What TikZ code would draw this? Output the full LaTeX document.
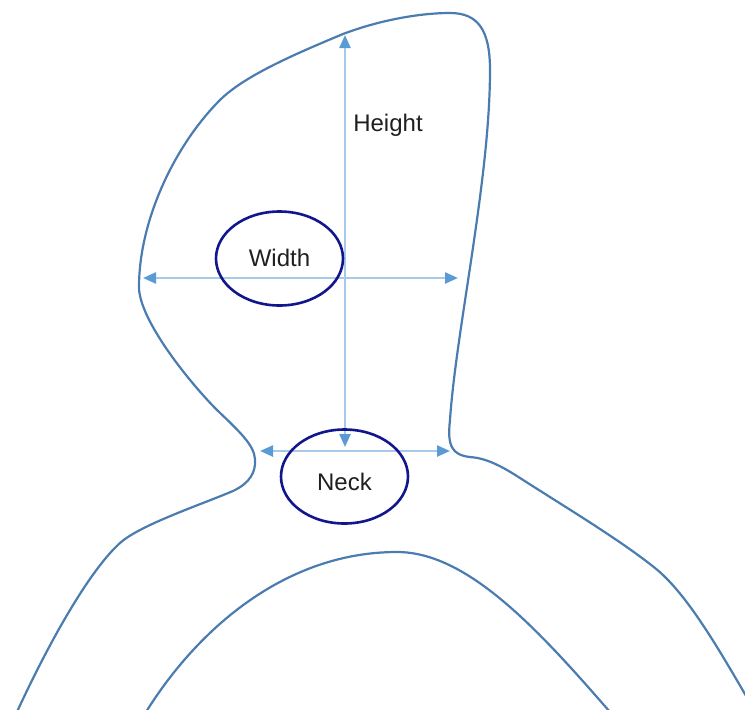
\documentclass[tikz,border=0pt]{standalone}
\usepackage{fontspec}
\setmainfont{Liberation Sans}
\usetikzlibrary{arrows.meta,shapes.geometric}

\definecolor{bleuContour}{HTML}{4A7CB0}
\definecolor{bleuTrait}{HTML}{A9C9EA}
\definecolor{bleuPointe}{HTML}{5B9BD5}
\definecolor{bleuNuit}{HTML}{12168C}

\tikzset{
    silhouette/.style={draw=bleuContour, line width=2.2pt, line join=round},
    cote/.style={draw=bleuTrait, line width=2.4pt,
        >={Triangle[length=13pt, width=11pt, color=bleuPointe]}, <->},
    bulle/.style={ellipse, draw=bleuNuit, line width=2.6pt, inner sep=0pt,
        minimum width=127pt, minimum height=94pt, text=black!88,
        font=\fontsize{24}{28}\selectfont},
}

\begin{document}
\begin{tikzpicture}[x=1pt, y=-1pt]
    \useasboundingbox (0, 0) rectangle (745, 710);

    % tete + epaules, un seul trait (de l'epaule gauche a l'epaule droite)
    \draw[silhouette] (16, 714)
        .. controls (50, 640) and (90, 570) .. (120, 543)
        .. controls (140, 525) and (200, 505) .. (233, 491)
        .. controls (250, 483) and (256, 472) .. (255, 459)
        .. controls (254, 445) and (240, 432) .. (217, 410)
        .. controls (190, 383) and (139, 320) .. (139, 287)
        .. controls (139, 220) and (175, 145) .. (220, 100)
        .. controls (245, 75) and (300, 52) .. (343, 34)
        .. controls (380, 20) and (420, 13) .. (450, 13)
        .. controls (478, 13) and (490, 30) .. (490, 70)
        .. controls (490, 180) and (456, 330) .. (450, 420)
        .. controls (447, 446) and (452, 455) .. (470, 457)
        .. controls (485, 458) and (500, 465) .. (520, 478)
        .. controls (570, 510) and (620, 540) .. (655, 568)
        .. controls (690, 596) and (725, 660) .. (760, 720);
    % arc du dessous
    \draw[silhouette] (146, 712)
        .. controls (199, 627) and (287, 552) .. (397, 552)
        .. controls (467, 552) and (537, 628) .. (610, 712);

    % points des cotes
    \coordinate (sommet) at (345, 35);
    \coordinate (menton) at (345, 447);
    \coordinate (gauche) at (143, 278);
    \coordinate (droite) at (458, 278);
    \coordinate (cougauche) at (260, 451);
    \coordinate (coudroit) at (450, 451);

    \draw[cote] (menton) -- (sommet);
    \draw[cote] (gauche) -- (droite);
    \draw[cote] (cougauche) -- (coudroit);

    \node[text=black!88, font=\fontsize{24}{28}\selectfont] (hauteur) at (388, 125) {Height};
    \node[bulle] (largeur) at (279.5, 258.5) {\raisebox{1pt}[\height][\depth]{Width}};
    \node[bulle] (cou) at (344.5, 476.5) {\raisebox{-5pt}[\height][\depth]{Neck}};
\end{tikzpicture}
\end{document}
